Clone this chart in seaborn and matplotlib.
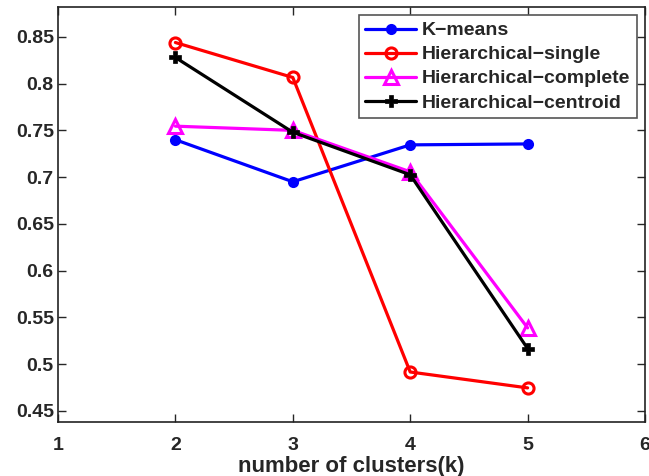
import matplotlib
matplotlib.use("Agg")
import matplotlib.pyplot as plt
import seaborn as sns
import pandas as pd

k_values = [2, 3, 4, 5]
kmeans = [0.740, 0.695, 0.7345, 0.7355]
h_single = [0.844, 0.8066, 0.4915, 0.4745]
h_complete = [0.7545, 0.750, 0.7057, 0.5387]
h_centroid = [0.828, 0.748, 0.7025, 0.5166]
series_names = ["K\u2212means", "Hierarchical\u2212single", "Hierarchical\u2212complete", "Hierarchical\u2212centroid"]
x_ticks = [1, 2, 3, 4, 5, 6]
y_ticks = [0.45, 0.5, 0.55, 0.6, 0.65, 0.7, 0.75, 0.8, 0.85]
y_tick_labels = ["0.45", "0.5", "0.55", "0.6", "0.65", "0.7", "0.75", "0.8", "0.85"]
x_label = "number of clusters(k)"

sns.set_style("ticks")
plt.rcParams['font.family'] = ['Liberation Sans', 'DejaVu Sans']
plt.rcParams['font.weight'] = 'bold'

fig = plt.figure(figsize=(6.49, 4.76), dpi=100)
ax = fig.add_axes([58/649, 1-422/476, 587/649, 415/476])

styles = [
    dict(color="#0000ff", marker="o", mfc="#0000ff", ms=6.5, mew=1.5),
    dict(color="#ff0000", marker="o", mfc="none", ms=8, mew=2.2),
    dict(color="#ff00ff", marker="^", mfc="none", ms=10, mew=2.2),
    dict(color="#000000", marker="P", mfc="#000000", ms=8, mew=0.5),
]
data = [kmeans, h_single, h_complete, h_centroid]
for name, vals, st in zip(series_names, data, styles):
    df = pd.DataFrame({"k": k_values, "v": vals})
    sns.lineplot(data=df, x="k", y="v", ax=ax, color=st["color"], linewidth=2.3,
                 marker=st["marker"], markersize=st["ms"], markerfacecolor=st["mfc"],
                 markeredgecolor=st["color"], markeredgewidth=st["mew"], label=name)

ax.set_xlim(1, 6)
ax.set_ylim(0.438, 0.882)
ax.set_xticks(x_ticks)
ax.set_xticklabels([str(t) for t in x_ticks])
ax.set_yticks(y_ticks)
ax.set_yticklabels(y_tick_labels)
ax.tick_params(direction="in", length=6, width=1, top=True, right=True, labelsize=14)
ax.tick_params(axis="x", pad=11)
ax.tick_params(axis="y", pad=3)
for lab in ax.get_xticklabels() + ax.get_yticklabels():
    lab.set_fontweight("bold")
ax.set_xlabel(x_label, fontsize=16, fontweight="bold", labelpad=1)
ax.set_ylabel("")
for sp in ax.spines.values():
    sp.set_visible(True)
    sp.set_linewidth(1.2)
    sp.set_color("#222222")

leg = ax.legend(loc="upper right", bbox_to_anchor=(637/649, 1-15/476), bbox_transform=fig.transFigure,
                fontsize=14, frameon=True, fancybox=False, framealpha=1, edgecolor="#555555",
                handlelength=2.6, borderpad=0.35, labelspacing=0.33, handletextpad=0.3, borderaxespad=0)
for t in leg.get_texts():
    t.set_fontweight("bold")
leg.get_frame().set_linewidth(1.2)

fig.savefig("out.png", dpi=100)
